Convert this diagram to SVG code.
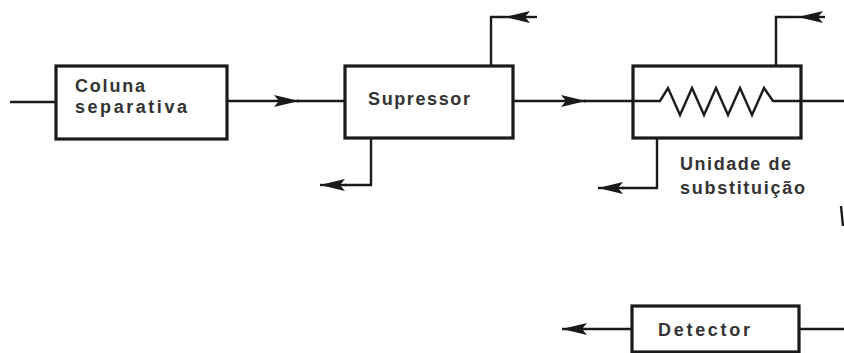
<svg xmlns="http://www.w3.org/2000/svg" width="844" height="353" viewBox="0 0 844 353">
<defs>
<marker id="arr" markerUnits="userSpaceOnUse" markerWidth="30" markerHeight="16" refX="26" refY="8" orient="auto">
<path d="M26,8 L1,2 L6,8 L1,14 Z" fill="#1a1a1a"/>
</marker>
<style>
.box{fill:#fff;stroke:#1a1a1a;stroke-width:3.2}
.ln{fill:none;stroke:#1a1a1a;stroke-width:2.4}
.t{font-family:"Liberation Sans",Arial,sans-serif;font-weight:bold;font-size:18px;fill:#333}
</style>
</defs>
<rect width="844" height="353" fill="#fff"/>
<g id="connectors">
<line class="ln" x1="10" y1="102" x2="56" y2="102"/>
<line class="ln" x1="227" y1="101" x2="299" y2="101" marker-end="url(#arr)"/>
<line class="ln" x1="297" y1="101" x2="345" y2="101"/>
<path class="ln" d="M491,66 V17 H505"/>
<line class="ln" x1="537" y1="17" x2="505" y2="17" marker-end="url(#arr)"/>
<path class="ln" d="M371,138 V185 H345"/>
<line class="ln" x1="346" y1="185" x2="320" y2="185" marker-end="url(#arr)"/>
<line class="ln" x1="513" y1="101" x2="586" y2="101" marker-end="url(#arr)"/>
<line class="ln" x1="584" y1="101" x2="660" y2="101"/>
<path class="ln" d="M776,66 V17 H798"/>
<line class="ln" x1="825" y1="17" x2="798" y2="17" marker-end="url(#arr)"/>
<path class="ln" d="M657,138 V188 H622"/>
<line class="ln" x1="624" y1="188" x2="598" y2="188" marker-end="url(#arr)"/>
<line class="ln" x1="632" y1="329" x2="562" y2="329" marker-end="url(#arr)"/>
<line class="ln" x1="799" y1="329" x2="844" y2="329"/>
<line class="ln" x1="773" y1="101" x2="844" y2="101"/>
<line class="ln" x1="841" y1="206" x2="843" y2="226"/>
</g>
<g id="coluna">
<rect class="box" x="56" y="66" width="171" height="73"/>
<text class="t" x="75" y="92" textLength="70" lengthAdjust="spacing">Coluna</text>
<text class="t" x="75" y="113" textLength="112" lengthAdjust="spacing">separativa</text>
</g>
<g id="supressor">
<rect class="box" x="345" y="66" width="168" height="72"/>
<text class="t" x="368" y="105" textLength="102" lengthAdjust="spacing">Supressor</text>
</g>
<g id="unidade">
<rect class="box" x="633" y="66" width="168" height="72"/>
<path class="ln" d="M633,101 H660 L668,88 L680,115 L692,88 L704,115 L716,88 L728,115 L740,88 L752,115 L764,88 L773,101 H801"/>
<text class="t" x="680" y="170" textLength="111" lengthAdjust="spacing">Unidade de</text>
<text class="t" x="680" y="194" textLength="125" lengthAdjust="spacing">substituição</text>
</g>
<g id="detector">
<rect class="box" x="632" y="306" width="167" height="46"/>
<text class="t" x="658" y="336" textLength="92" lengthAdjust="spacing">Detector</text>
</g>
</svg>
